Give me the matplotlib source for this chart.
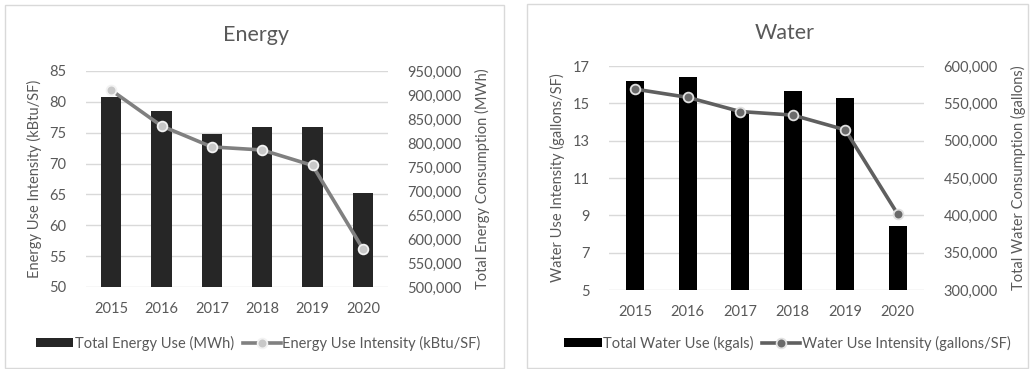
import matplotlib.pyplot as plt
from matplotlib.patches import Rectangle
from matplotlib.ticker import FuncFormatter
import numpy as np

plt.rcParams['font.family'] = ['Lato', 'DejaVu Sans']

years = ['2015', '2016', '2017', '2018', '2019', '2020']

# energy: total use (MWh) and intensity (kBtu/SF)
energy_total = [895000, 866000, 818000, 833000, 833000, 696000]
energy_eui = [81.9, 76.1, 72.7, 72.2, 69.7, 56.2]

# water: total use (gallons) and intensity (gallons/SF)
water_total = [580500, 584800, 540000, 567000, 556500, 385500]
water_wui = [15.76, 15.32, 14.56, 14.37, 13.58, 9.06]

TEXT = '#595959'
GRID = '#d9d9d9'
W, H = 1032, 369


def px_rect(x0, y0, x1, y1):
    return [x0 / W, 1 - y1 / H, (x1 - x0) / W, (y1 - y0) / H]


def draw_panel(fig, rect, box, title, title_xy, totals, intensity,
               left_lim, left_ticks, right_lim, right_ticks,
               left_label, right_label, bar_label, line_label,
               bar_color, line_color, marker_face, marker_edge, bar_width,
               legend_xy):
    # panel frame
    fig.patches.append(Rectangle((box[0] / W, 1 - box[3] / H),
                                 (box[2] - box[0]) / W, (box[3] - box[1]) / H,
                                 transform=fig.transFigure, fill=False,
                                 edgecolor=GRID, linewidth=1.0))
    fig.text(title_xy[0] / W, 1 - title_xy[1] / H, title, ha='center',
             va='center', fontsize=15.5, color=TEXT)

    x = np.arange(len(years))
    ax = fig.add_axes(px_rect(*rect))
    ax.set_ylim(*left_lim)
    ax.set_yticks(left_ticks)
    ax.set_xlim(-0.5, len(years) - 0.5)
    ax.set_xticks(x)
    ax.set_xticklabels(years)
    ax.grid(axis='y', color=GRID, linewidth=1.0)
    ax.set_axisbelow(True)
    ax.set_ylabel(left_label, color=TEXT, fontsize=10.5, labelpad=5)

    # bars on the right-hand scale
    bx = ax.twinx()
    bars = bx.bar(x, totals, width=bar_width, color=bar_color, label=bar_label)
    bx.set_ylim(*right_lim)
    bx.set_yticks(right_ticks)
    bx.yaxis.set_major_formatter(FuncFormatter(lambda v, p: f'{int(v):,}'))
    bx.set_ylabel(right_label, color=TEXT, fontsize=10.5, labelpad=9)

    # intensity line drawn over the bars, on the left-hand scale
    lx = ax.twinx()
    lx.set_ylim(*left_lim)
    lx.set_yticks([])
    line, = lx.plot(x, intensity, color=line_color, linewidth=2.6,
                    marker='o', markersize=7, markerfacecolor=marker_face,
                    markeredgecolor=marker_edge, markeredgewidth=1.3,
                    label=line_label)

    for a in (ax, bx, lx):
        for s in a.spines.values():
            s.set_visible(False)
        a.tick_params(length=0, colors=TEXT, labelsize=10.5)
    ax.tick_params(axis='x', pad=11)
    ax.tick_params(axis='y', pad=14)
    bx.tick_params(axis='y', pad=14)

    fig.legend([bars, line], [bar_label, line_label], ncol=2,
               loc='center', bbox_to_anchor=(legend_xy[0] / W, 1 - legend_xy[1] / H),
               frameon=False, fontsize=10.5, handlelength=2.6,
               handleheight=0.6, handletextpad=0.1, columnspacing=0.6,
               labelcolor=TEXT)


fig = plt.figure(figsize=(W / 100, H / 100), dpi=100)

draw_panel(fig, (86, 71, 388, 287), (5, 5, 504, 368), 'Energy', (256, 35),
           energy_total, energy_eui,
           (50, 85), np.arange(50, 86, 5),
           (500000, 950000), np.arange(500000, 950001, 50000),
           'Energy Use Intensity (kBtu/SF)', 'Total Energy Consumption (MWh)',
           'Total Energy Use (MWh)', 'Energy Use Intensity (kBtu/SF)',
           '#262626', '#808080', '#c8c8c8', '#f2f2f2', 0.4, (258, 343))

draw_panel(fig, (609, 66, 924, 290), (527, 4, 1028, 368), 'Water', (785, 33),
           water_total, water_wui,
           (5, 17), np.arange(5, 18, 2),
           (300000, 600000), np.arange(300000, 600001, 50000),
           'Water Use Intensity (gallons/SF)', 'Total Water Consumption (gallons)',
           'Total Water Use (kgals)', 'Water Use Intensity (gallons/SF)',
           '#000000', '#5f5f5f', '#6a6a6a', '#e0e0e0', 0.35, (787, 343))

fig.savefig('out.png', dpi=100, facecolor='white')
